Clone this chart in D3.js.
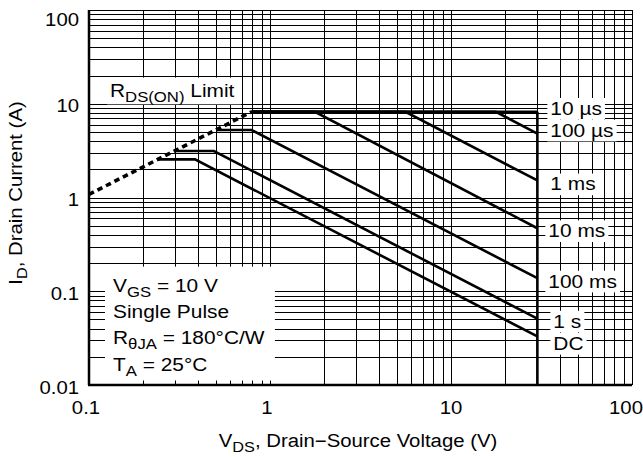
<!DOCTYPE html>
<html>
<head>
<meta charset="utf-8">
<script src="https://cdn.jsdelivr.net/npm/d3@7"></script>
<style>
  body { margin: 0; background: #fff; }
  svg { display: block; }
  svg text { font-family: "Liberation Sans", Arial, sans-serif; fill: #000; }
</style>
</head>
<body>
<svg id="chart" width="643" height="457"></svg>
<script>
// axis ticks
const vdsTicks = [0.1, 1, 10, 100]
const idTicks = [0.01, 0.1, 1, 10, 100]

// RDS(on) limit (dashed)
const limitV = [0.1, 0.79]
const limitI = [1.08, 8.2]

// safe operating area curves, each a list of (V, I) corners
const curveNames = ["10 \u00b5s", "100 \u00b5s", "1 ms", "10 ms", "100 ms", "1 s", "DC"]
const curveV = [[0.79, 30], [0.79, 17.7, 30], [0.79, 5.6, 30], [0.79, 1.77, 30],
                [0.51, 0.79, 30], [0.30, 0.49, 30], [0.24, 0.385, 30]]
const curveI = [[8.2, 8.2], [8.2, 8.2, 4.8], [8.2, 8.2, 1.52], [8.2, 8.2, 0.47],
                [5.25, 5.25, 0.138], [3.13, 3.13, 0.051], [2.55, 2.55, 0.033]]
const vdsMax = 30

const notes = [
  [["V", ""], ["GS", "sub"], [" = 10 V", ""]],
  [["Single Pulse", ""]],
  [["R", ""], ["\u03b8JA", "sub"], [" = 180\u00b0C/W", ""]],
  [["T", ""], ["A", "sub"], [" = 25\u00b0C", ""]]
]

const pLeft = 89, pRight = 632, pTop = 10, pBottom = 385
const sx = 1.13   // the original lettering is a little wider than Arial

const svg = d3.select("#chart")

const x = d3.scaleLog().domain([0.1, 100]).range([pLeft, pRight])
const y = d3.scaleLog().domain([0.01, 100]).range([pBottom, pTop])

const place = (t, px, py, extra) =>
  t.attr("transform", `translate(${px},${py})${extra || ""} scale(${sx},1)`)

// helper: text with subscripts
const richText = (g, parts, size) => {
  const t = g.append("text").attr("font-size", size)
  let shifted = false
  parts.forEach(([s, kind]) => {
    const sp = t.append("tspan").text(s)
    if (kind === "sub" && !shifted) {
      sp.attr("font-size", size * 0.8).attr("dy", 5); shifted = true
    } else if (kind !== "sub" && shifted) {
      sp.attr("dy", -5); shifted = false
    }
  })
  return t
}

// grid
svg.append("g")
  .attr("transform", `translate(0,${pBottom})`)
  .call(d3.axisBottom(x).tickValues(x.ticks()).tickSize(-(pBottom - pTop)).tickFormat(""))
  .call(g => g.select(".domain").remove())
  .selectAll("line").attr("stroke", "#000").attr("stroke-width", 1).attr("shape-rendering", "crispEdges")

svg.append("g")
  .attr("transform", `translate(${pLeft},0)`)
  .call(d3.axisLeft(y).tickValues(y.ticks()).tickSize(-(pRight - pLeft)).tickFormat(""))
  .call(g => g.select(".domain").remove())
  .selectAll("line").attr("stroke", "#000").attr("stroke-width", 1).attr("shape-rendering", "crispEdges")

// white boxes behind the annotations
const boxLayer = svg.append("g")
const textLayer = svg.append("g")

const addBox = (node, padX, padY) => {
  const b = node.getBoundingClientRect()
  boxLayer.append("rect")
    .attr("x", b.left - padX[0]).attr("y", b.top - padY[0])
    .attr("width", b.width + padX[0] + padX[1]).attr("height", b.height + padY[0] + padY[1])
    .attr("fill", "#fff")
}

// RDS(on) label
const rds = richText(textLayer, [["R", ""], ["DS(ON)", "sub"], [" Limit", ""]], 18.5)
place(rds, 110, 96.5)
addBox(rds.node(), [3, 6], [2, 0])

// conditions block
const noteG = textLayer.append("g")
notes.forEach((parts, i) => {
  place(richText(noteG, parts, 18.5), 113, 291.5 + i * 26.4)
})
addBox(noteG.node(), [8, 10], [8, 2])

// curve labels
const labelDx = [13, 13, 13, 11, 11, 16, 16]
const labelDy = [3, 3, 10, 9, 9.5, 9, 13.5]
curveNames.forEach((name, k) => {
  const n = curveV[k].length - 1
  const t = textLayer.append("text").attr("font-size", 18.5).text(name)
  place(t, x(curveV[k][n]) + labelDx[k], y(curveI[k][n]) + labelDy[k])
  addBox(t.node(), [3, 3], [0, 1])
})

// axes frame
svg.append("line").attr("x1", pLeft).attr("x2", pLeft).attr("y1", pTop).attr("y2", pBottom)
  .attr("stroke", "#000").attr("stroke-width", 2.5)
svg.append("line").attr("x1", pLeft - 1).attr("x2", pRight).attr("y1", pBottom).attr("y2", pBottom)
  .attr("stroke", "#000").attr("stroke-width", 2.5)

// curves
const line = d3.line().x(d => x(d[0])).y(d => y(d[1]))
svg.append("g").selectAll("path")
  .data(curveV.map((vs, k) => vs.map((v, j) => [v, curveI[k][j]])))
  .join("path")
  .attr("d", line)
  .attr("fill", "none").attr("stroke", "#000").attr("stroke-width", 2.6)

// VDS max boundary
svg.append("path")
  .attr("d", line([[vdsMax, curveI[0][1]], [vdsMax, 0.01]]))
  .attr("stroke", "#000").attr("stroke-width", 2.6)

// RDS(on) limit
svg.append("path")
  .attr("d", line(limitV.map((v, j) => [v, limitI[j]])))
  .attr("fill", "none").attr("stroke", "#000").attr("stroke-width", 3.6)
  .attr("stroke-dasharray", "5.5,4")

// tick labels
const xdx = [-3, -3, 0, -6]
svg.append("g").selectAll("text").data(vdsTicks).join("text")
  .attr("text-anchor", "middle").attr("font-size", 18)
  .attr("transform", (d, i) => `translate(${x(d) + xdx[i]},414) scale(${sx},1)`)
  .text(d => d3.format("~g")(d))

svg.append("g").selectAll("text").data(idTicks).join("text")
  .attr("text-anchor", "end").attr("font-size", 18)
  .attr("transform", d => `translate(79,${y(d) + (d === 100 ? 15.5 : 8.5)}) scale(${sx},1)`)
  .text(d => d3.format("~g")(d))

// axis titles
place(richText(svg, [["V", ""], ["DS", "sub"], [", Drain\u2212Source Voltage (V)", ""]], 18)
  .attr("text-anchor", "middle"), 358, 446.5)

place(richText(svg, [["I", ""], ["D", "sub"], [", Drain Current (A)", ""]], 18)
  .attr("text-anchor", "middle"), 22, 193, " rotate(-90)")
</script>
</body>
</html>
